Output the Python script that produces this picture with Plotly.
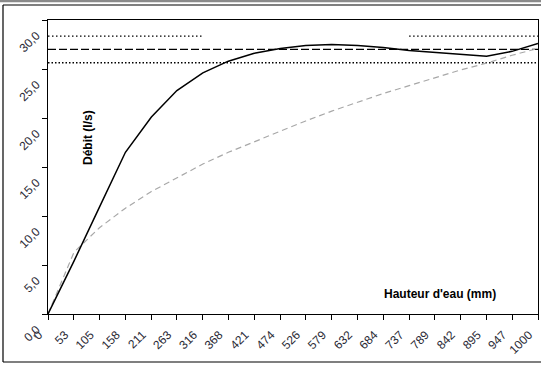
import plotly.graph_objects as go

hauteur = [0, 53, 105, 158, 211, 263, 316, 368, 421, 474, 526, 579, 632, 684, 737, 789, 842, 895, 947, 1000]
tick_labels = [str(h) for h in hauteur]
debit_mesure = [0, 5.4, 10.9, 16.5, 20.1, 22.8, 24.6, 25.8, 26.6, 27.1, 27.4, 27.5, 27.4, 27.2, 26.9, 26.7, 26.5, 26.3, 26.8, 27.6]
debit_theorique = [0, 6.3, 8.8, 10.8, 12.5, 13.9, 15.3, 16.5, 17.6, 18.7, 19.7, 20.7, 21.6, 22.5, 23.3, 24.1, 24.9, 25.6, 26.4, 27.1]
consigne = [27.0] * 20
limite_basse = [25.65] * 20
limite_haute = [28.35] * 7 + [None] * 7 + [28.35] * 6

y_ticks = [0, 5, 10, 15, 20, 25, 30]
y_labels = ["0,0", "5,0", "10,0", "15,0", "20,0", "25,0", "30,0"]

fig = go.Figure()
fig.add_trace(go.Scatter(x=hauteur, y=limite_haute, mode="lines",
                         line=dict(color="black", width=1.3, dash="1.5px,2.5px"), connectgaps=False))
fig.add_trace(go.Scatter(x=hauteur, y=limite_basse, mode="lines",
                         line=dict(color="black", width=1.5, dash="1.5px,2px")))
fig.add_trace(go.Scatter(x=hauteur, y=consigne, mode="lines",
                         line=dict(color="black", width=1.3, dash="8px,3px")))
fig.add_trace(go.Scatter(x=hauteur, y=debit_theorique, mode="lines",
                         line=dict(color="#a8a8a8", width=1.2, dash="6px,4px")))
fig.add_trace(go.Scatter(x=hauteur, y=debit_mesure, mode="lines",
                         line=dict(color="black", width=1.5)))

L, R, T, B = 48, 538, 20, 314
W = R - L
H = B - T


def px_x(p):
    return (p - L) / W


def px_y(p):
    return (B - p) / H


fig.update_layout(
    width=550, height=372,
    margin=dict(l=L, r=550 - R, t=T, b=372 - B, autoexpand=False),
    paper_bgcolor="white", plot_bgcolor="white",
    showlegend=False,
    font=dict(family="Liberation Sans, Arial, sans-serif", size=12, color="#2a2a35"),
    xaxis=dict(range=[0, 1000], tickmode="array", tickvals=hauteur, ticktext=tick_labels,
               tickangle=-45, ticks="outside", ticklen=5, tickcolor="black", automargin=False,
               ticklabelstandoff=3, ticklabelshift=-9,
               showline=True, linecolor="black", linewidth=1.3, mirror=True,
               showgrid=False, zeroline=False, tickfont=dict(size=12)),
    yaxis=dict(range=[0, 30], tickmode="array", tickvals=y_ticks, ticktext=y_labels,
               tickangle=-45, ticks="outside", ticklen=5, tickcolor="black", automargin=False,
               ticklabelstandoff=3, ticklabelshift=14,
               showline=True, linecolor="black", linewidth=1.3, mirror=True,
               showgrid=False, zeroline=False, tickfont=dict(size=12)),
    annotations=[
        dict(text="<b>Débit (l/s)</b>", x=px_x(88), y=px_y(138), xref="paper", yref="paper",
             xanchor="center", yanchor="middle",
             showarrow=False, textangle=-90, font=dict(size=12, color="black")),
        dict(text="<b>Hauteur d'eau (mm)</b>", x=px_x(440), y=px_y(294), xref="paper", yref="paper",
             xanchor="center", yanchor="middle",
             showarrow=False, font=dict(size=12, color="black")),
    ],
    shapes=[
        dict(type="line", xref="paper", yref="paper", x0=px_x(0), x1=px_x(541), y0=px_y(1), y1=px_y(1),
             line=dict(color="#8a8a8a", width=2.5)),
        dict(type="line", xref="paper", yref="paper", x0=px_x(3), x1=px_x(541), y0=px_y(5), y1=px_y(5),
             line=dict(color="black", width=1.2)),
        dict(type="line", xref="paper", yref="paper", x0=px_x(3), x1=px_x(3), y0=px_y(5), y1=px_y(362),
             line=dict(color="black", width=1.2)),
        dict(type="line", xref="paper", yref="paper", x0=px_x(3), x1=px_x(541), y0=px_y(362), y1=px_y(362),
             line=dict(color="black", width=1.2)),
    ],
)

fig.write_html("out.html", config={"displayModeBar": False},
               post_script="document.body.style.margin='0';document.body.style.overflow='hidden';")
